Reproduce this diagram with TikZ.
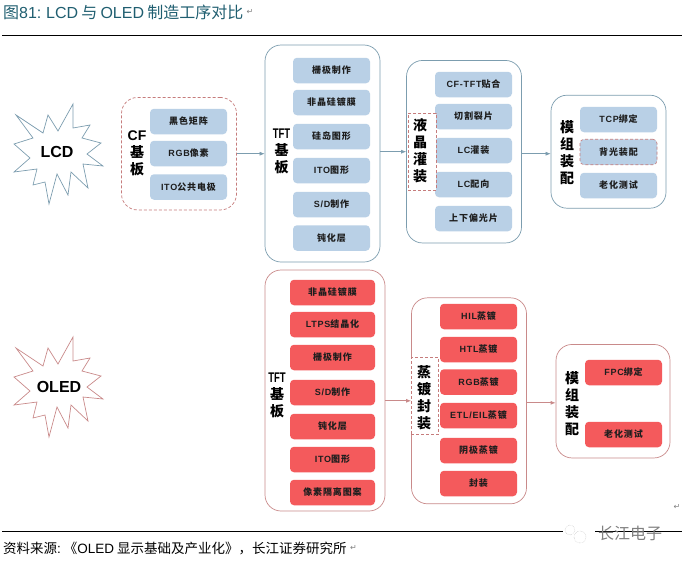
\documentclass[tikz,border=0pt]{standalone}
\usepackage{fontspec}
\usepackage{graphicx}
\setmainfont{Liberation Sans}
\newfontfamily\cjk{Noto Sans CJK SC}
\newfontfamily\cjkbox[LetterSpace=10]{Noto Sans CJK SC}
\newfontfamily\latinbox[LetterSpace=8]{Liberation Sans}
\newfontfamily\arrowfont{DejaVu Sans}
\newcommand{\zh}[1]{{\cjk #1}}
\newcommand{\zb}[1]{{\cjkbox #1}}
\newcommand{\tft}{\scalebox{0.68}[1]{TFT}}
\usetikzlibrary{arrows.meta, positioning}
\definecolor{titlecol}{HTML}{1F5E70}
\definecolor{bluefill}{HTML}{B9D0E6}
\definecolor{blueline}{HTML}{7C9DAF}
\definecolor{redfill}{HTML}{F45A5C}
\definecolor{redline}{HTML}{C98A8A}
\definecolor{dashline}{HTML}{C67C7C}
\definecolor{boxtext}{HTML}{1E1E1E}

\begin{document}
\begin{tikzpicture}[
  x=1pt, y=-1pt,
  stepbox/.style={rectangle, rounded corners=4pt, minimum width=77pt, minimum height=25.5pt,
    inner sep=0pt, text=boxtext, font=\latinbox\bfseries\fontsize{9}{10}\selectfont},
  bluestep/.style={stepbox, fill=bluefill},
  redstep/.style={stepbox, fill=redfill},
  group/.style={rectangle, rounded corners=16pt, draw, line width=0.7pt, inner sep=0pt, fill=white},
  bluegroup/.style={group, draw=blueline},
  redgroup/.style={group, draw=redline},
  dashgroup/.style={group, draw=dashline, densely dashed},
  dashlabel/.style={rectangle, draw=dashline, densely dashed, line width=0.6pt, fill=white, inner sep=0pt},
  grouplabel/.style={align=center, inner sep=0pt, font=\bfseries\fontsize{14}{17}\selectfont},
  blueflow/.style={draw=blueline, line width=0.6pt, -{Latex[length=5pt,width=4pt]}},
  redflow/.style={draw=redline, line width=0.8pt, -{Latex[length=5pt,width=4pt]}},
  mark symbol/.style={text=gray, inner sep=0pt, font=\arrowfont\fontsize{8}{8}\selectfont}
]
  %------------------------------------------------------------
  %  PARAMETERS
  %------------------------------------------------------------
  \def\starpath{(-41,-37) -- (-14,-19) -- (-9,-37) -- (1,-21) -- (16,-48) -- (16,-24)
    -- (33,-27) -- (25,-14) -- (44,-9) -- (30,2) -- (46,14) -- (26,12) -- (31,36)
    -- (14,20) -- (11,43) -- (0,22) -- (-8,52) -- (-12,30) -- (-24,33) -- (-20,17)
    -- (-43,20) -- (-27,6) -- (-43,-8) -- (-24,-14) -- cycle}
  \useasboundingbox (0,0) rectangle (684,562);

  %------------------------------------------------------------
  %  TITLE, RULES, SOURCE
  %------------------------------------------------------------
  \node[anchor=west, inner sep=0pt, text=titlecol, font=\fontsize{16}{18}\selectfont] (title) at (3,12)
    {\spaceskip=3.2pt \zh{图}81: LCD \zh{与} OLED \zh{制造工序对比}};
  \node[mark symbol, right=3pt of title] (titlemark) {↵};
  \coordinate (topL) at (2,35);
  \coordinate (topR) at (682,35);
  \coordinate (botL) at (2,531);
  \coordinate (botR) at (682,531);
  \draw[line width=0.8pt] (topL) -- (topR);
  \draw[line width=0.8pt] (botL) -- (botR);
  \node[anchor=west, inner sep=0pt, font=\fontsize{13.5}{16}\selectfont] (source) at (3,548)
    {\spaceskip=3pt \zh{资料来源}:\hspace{3pt}\zh{《}OLED \zh{显示基础及产业化》，长江证券研究所}};
  \node[mark symbol, right=3pt of source] (sourcemark) {↵};
  \node[mark symbol] (pagemark) at (677,507) {↵};

  %------------------------------------------------------------
  %  WATERMARK
  %------------------------------------------------------------
  \fill[white] (563,524) rectangle (595,543);
  \draw[gray!60, densely dotted] (570,530) circle (5);
  \draw[gray!60, densely dotted] (580,537) circle (6);
  \node[text=gray, inner sep=0pt, font=\fontsize{16}{16}\selectfont] (mark) at (630,533) {\zh{长江电子}};

  %------------------------------------------------------------
  %  STARS
  %------------------------------------------------------------
  \draw[blueline, line width=0.7pt, shift={(57,152)}] \starpath;
  \node[inner sep=0pt, font=\bfseries\fontsize{16}{18}\selectfont] (LCD) at (57,152) {LCD};
  \draw[redline, line width=0.7pt, shift={(57,385)}] \starpath;
  \node[inner sep=0pt, font=\bfseries\fontsize{16}{18}\selectfont] (OLED) at (59,387) {OLED};

  %------------------------------------------------------------
  %  LCD ROW:  CF substrate
  %------------------------------------------------------------
  \node[dashgroup, minimum width=115pt, minimum height=112.5pt] (CF) at (179,153.7) {};
  \foreach \y/\txt [count=\i] in {121.5/\zb{黑色矩阵}, 153.5/RGB\zb{像素}, 187/ITO\zb{公共电极}} {
    \node[bluestep] (cf\i) at (188.5,\y) {\txt};
  }
  \node[grouplabel] (cflabel) at (137,153) {CF\\\zh{基}\\\zh{板}};

  %------------------------------------------------------------
  %  LCD ROW:  TFT substrate
  %------------------------------------------------------------
  \node[bluegroup, minimum width=115pt, minimum height=217pt] (TFTa) at (322.5,153.5) {};
  \foreach \y/\txt [count=\i] in {70.5/\zb{栅极制作}, 102.5/\zb{非晶硅镀膜}, 136.5/\zb{硅岛图形},
      170.5/ITO\zb{图形}, 204.5/{S/D\zb{制作}}, 238/\zb{钝化层}} {
    \node[bluestep] (tfta\i) at (331.5,\y) {\txt};
  }
  \node[grouplabel] (tftalabel) at (281.5,151) {\tft\\\zh{基}\\\zh{板}};

  %------------------------------------------------------------
  %  LCD ROW:  liquid crystal filling
  %------------------------------------------------------------
  \node[bluegroup, minimum width=115pt, minimum height=182.5pt] (LC) at (464,151.7) {};
  \foreach \y/\txt [count=\i] in {84.5/CF-TFT\zb{贴合}, 116.5/\zb{切割裂片}, 150.5/LC\zb{灌装},
      184.5/LC\zb{配向}, 218.5/\zb{上下偏光片}} {
    \node[bluestep] (lc\i) at (473.5,\y) {\txt};
  }
  \node[dashlabel, minimum width=28pt, minimum height=77pt] (lcbox) at (422,151.5) {};
  \node[grouplabel] (lclabel) at (420,151) {\zh{液}\\\zh{晶}\\\zh{灌}\\\zh{装}};

  %------------------------------------------------------------
  %  LCD ROW:  module assembly
  %------------------------------------------------------------
  \node[bluegroup, minimum width=115pt, minimum height=113pt] (MODa) at (608.5,151.7) {};
  \foreach \y/\txt [count=\i] in {119.5/TCP\zb{绑定}, 185.5/\zb{老化测试}} {
    \node[bluestep] (moda\i) at (618.5,\y) {\txt};
  }
  \node[bluestep, draw=dashline, densely dashed, line width=0.6pt] (modback) at (618.5,152) {\zb{背光装配}};
  \node[grouplabel] (modalabel) at (567,153) {\zh{模}\\\zh{组}\\\zh{装}\\\zh{配}};

  %------------------------------------------------------------
  %  OLED ROW:  TFT substrate
  %------------------------------------------------------------
  \node[redgroup, minimum width=120pt, minimum height=241pt] (TFTb) at (325,390.5) {};
  \foreach \y/\txt [count=\i] in {292.5/\zb{非晶硅镀膜}, 324.5/LTPS\zb{结晶化}, 357.5/\zb{栅极制作},
      392.5/{S/D\zb{制作}}, 426.5/\zb{钝化层}, 459.5/ITO\zb{图形}, 492.5/\zb{像素隔离图案}} {
    \node[redstep, minimum width=85pt] (tftb\i) at (332.5,\y) {\txt};
  }
  \node[grouplabel] (tftblabel) at (277,395) {\tft\\\zh{基}\\\zh{板}};

  %------------------------------------------------------------
  %  OLED ROW:  evaporation and encapsulation
  %------------------------------------------------------------
  \node[redgroup, minimum width=115pt, minimum height=206pt] (EV) at (469,400.8) {};
  \foreach \y/\txt [count=\i] in {316.5/HIL\zb{蒸镀}, 349.5/HTL\zb{蒸镀}, 382/RGB\zb{蒸镀},
      415.5/{ETL/EIL\zb{蒸镀}}, 450.5/\zb{阴极蒸镀}, 483.5/\zb{封装}} {
    \node[redstep] (ev\i) at (478.5,\y) {\txt};
  }
  \node[dashlabel, minimum width=27.5pt, minimum height=76.5pt] (evbox) at (425,396) {};
  \node[grouplabel] (evlabel) at (424,397.5) {\zh{蒸}\\\zh{镀}\\\zh{封}\\\zh{装}};

  %------------------------------------------------------------
  %  OLED ROW:  module assembly
  %------------------------------------------------------------
  \node[redgroup, minimum width=114pt, minimum height=113.5pt] (MODb) at (613,401.2) {};
  \foreach \y/\txt [count=\i] in {372.5/FPC\zb{绑定}, 434.5/\zb{老化测试}} {
    \node[redstep] (modb\i) at (623.5,\y) {\txt};
  }
  \node[grouplabel] (modblabel) at (572,403.5) {\zh{模}\\\zh{组}\\\zh{装}\\\zh{配}};

  %------------------------------------------------------------
  %  FLOW ARROWS
  %------------------------------------------------------------
  \draw[blueflow] (CF.east) -- (CF.east -| TFTa.west);
  \draw[blueflow] (TFTa.east |- LC.west) -- (LC.west);
  \draw[blueflow] (LC.east |- CF.east) -- (MODa.west |- CF.east);
  \draw[redflow] (TFTb.east |- EV.west) -- (EV.west);
  \draw[redflow] ([yshift=-2pt]EV.east) -- ([yshift=-2pt]EV.east -| MODb.west);

\end{tikzpicture}
\end{document}
